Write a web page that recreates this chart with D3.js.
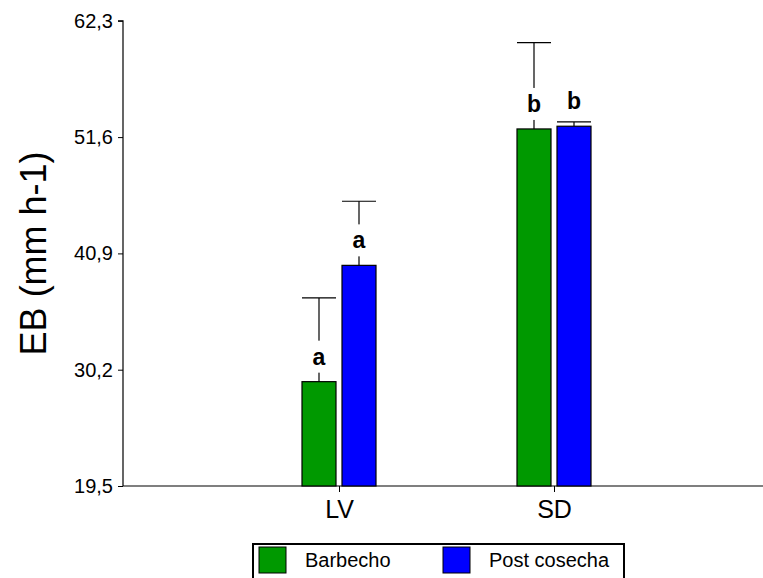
<!DOCTYPE html>
<html><head><meta charset="utf-8">
<script src="https://cdn.jsdelivr.net/npm/d3@7"></script>
<style>body{margin:0;background:#fff;} svg{display:block;font-family:"Liberation Sans",Arial,sans-serif;}</style>
</head><body>
<svg id="c" width="763" height="578"></svg>
<script>
const categories = ["LV", "SD"];
const seriesNames = ["Barbecho", "Post cosecha"];
const seriesColors = ["#009900", "#0000ff"];
const barbechoValues = [29.1, 52.35];
const barbechoErrors = [7.7, 7.95];
const postValues = [39.8, 52.6];
const postErrors = [5.9, 0.4];
const barbechoLetters = ["a", "b"];
const postLetters = ["a", "b"];
const yTicks = [19.5, 30.2, 40.9, 51.6, 62.3];
const yTickLabels = ["19,5", "30,2", "40,9", "51,6", "62,3"];
const yTitle = "EB (mm h-1)";

(function(){
const svg = d3.select("#c");
const mLeft = 123, mRight = 763, mTop = 20.8, mBottom = 486;

const y = d3.scaleLinear().domain([19.5, 62.3]).range([mBottom, mTop]);
const x = d3.scalePoint().domain(categories).range([339, 554]);
const sub = d3.scaleBand().domain(seriesNames).range([-40, 40]).paddingInner(0.15).paddingOuter(0.075);

const series = [
  {name: seriesNames[0], color: seriesColors[0], vals: barbechoValues, errs: barbechoErrors, letters: barbechoLetters},
  {name: seriesNames[1], color: seriesColors[1], vals: postValues, errs: postErrors, letters: postLetters}
];

const yAxis = d3.axisLeft(y).tickValues(yTicks).tickFormat((d,i)=>yTickLabels[i]).tickSize(5).tickPadding(5);
const gy = svg.append("g").attr("transform", `translate(${mLeft},0)`).call(yAxis);
gy.select(".domain").attr("stroke","#000").attr("stroke-width",1.2).attr("d", `M-5,${mTop}H0V${mBottom}`);
gy.selectAll(".tick line").attr("stroke","#000");
gy.selectAll(".tick text").attr("font-size", 20).attr("fill","#000").attr("font-family","Liberation Sans, Arial, sans-serif");

const xAxis = d3.axisBottom(x).tickSize(6).tickPadding(8);
const gx = svg.append("g").attr("transform", `translate(0,${mBottom})`).call(xAxis);
gx.select(".domain").attr("stroke","#000").attr("stroke-width",1.2).attr("d", `M${mLeft},0H${mRight}`);
gx.selectAll(".tick line").attr("stroke","#000");
gx.selectAll(".tick text").attr("font-size", 25).attr("fill","#000").attr("font-family","Liberation Sans, Arial, sans-serif");

svg.append("text").attr("transform", `translate(46,${(mTop+mBottom)/2}) rotate(-90)`)
  .attr("text-anchor","middle").attr("font-size",36).attr("fill","#000").text(yTitle);

series.forEach(s => {
  const g = svg.append("g");
  categories.forEach((c, i) => {
    const bx = x(c) + sub(s.name);
    const bw = sub.bandwidth();
    const cx = bx + bw/2;
    const yt = y(s.vals[i]);
    const ye = y(s.vals[i] + s.errs[i]);
    g.append("line").attr("x1",cx).attr("x2",cx).attr("y1",yt).attr("y2",ye).attr("stroke","#000").attr("stroke-width",1.2);
    g.append("line").attr("x1",bx).attr("x2",bx+bw).attr("y1",ye).attr("y2",ye).attr("stroke","#000").attr("stroke-width",1.2);
    g.append("rect").attr("x",bx).attr("y",yt).attr("width",bw).attr("height",mBottom-yt)
      .attr("fill",s.color).attr("stroke","#000").attr("stroke-width",1.2);
    const ly = yt - 25;
    g.append("rect").attr("x",cx-9).attr("y",ly-16).attr("width",18).attr("height",32).attr("fill","#fff");
    g.append("text").attr("x",cx).attr("y",ly+8).attr("text-anchor","middle")
      .attr("font-size",23).attr("font-weight","bold").attr("fill","#000").text(s.letters[i]);
  });
});

const lg = svg.append("g");
lg.append("rect").attr("x",253).attr("y",544).attr("width",371).attr("height",50)
  .attr("fill","#fff").attr("stroke","#000").attr("stroke-width",2);
const legX = [259, 443];
series.forEach((s, i) => {
  lg.append("rect").attr("x",legX[i]).attr("y",547).attr("width",27).attr("height",26)
    .attr("fill",s.color).attr("stroke","#000").attr("stroke-width",1);
  lg.append("text").attr("x",legX[i]+46).attr("y",567).attr("font-size",20).attr("fill","#000").text(s.name);
});
})();
</script>
</body></html>
